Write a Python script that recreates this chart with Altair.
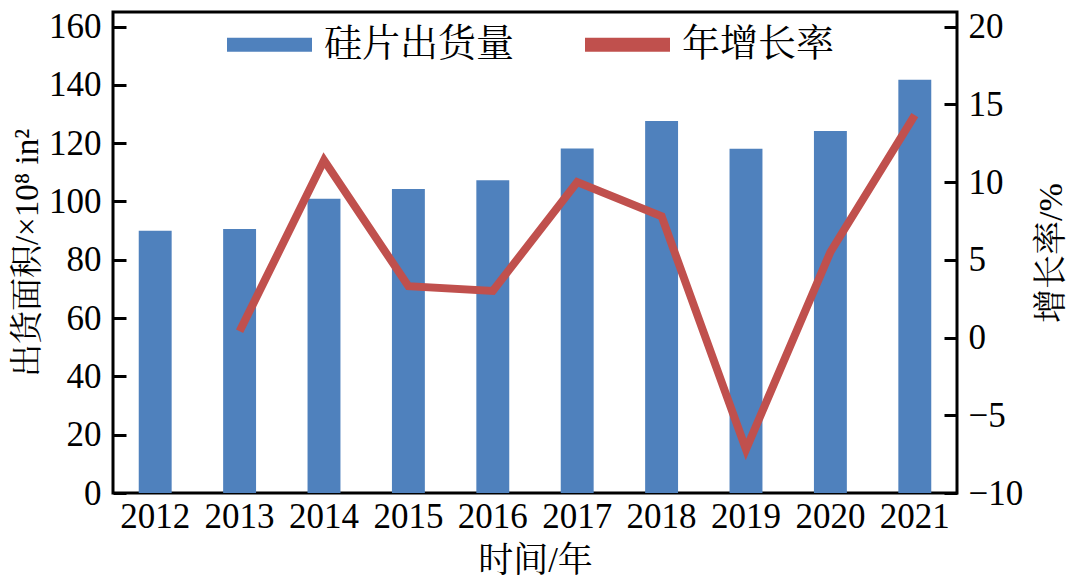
import altair as alt
import pandas as pd

years = ["2012", "2013", "2014", "2015", "2016", "2017", "2018", "2019", "2020", "2021"]
shipments = [90.0, 90.6, 100.9, 104.3, 107.3, 118.2, 127.6, 118.1, 124.2, 141.8]
growth_years = ["2013", "2014", "2015", "2016", "2017", "2018", "2019", "2020", "2021"]
growth = [0.4, 11.4, 3.3, 3.0, 10.0, 7.8, -7.2, 5.5, 14.3]
series_names = ["硅片出货量", "年增长率"]
colors = ["#4F81BD", "#C0504D"]
left_ticks = [0, 20, 40, 60, 80, 100, 120, 140, 160]
right_ticks = [-10, -5, 0, 5, 10, 15, 20]

FONT = "Liberation Serif, Times New Roman, Noto Serif CJK SC, Noto Sans CJK SC"

bar_df = pd.DataFrame({"year": years, "value": shipments, "series": series_names[0]})
line_df = pd.DataFrame({"year": growth_years, "value": growth, "series": series_names[1]})

x_scale = alt.Scale(domain=years, paddingInner=0.61, paddingOuter=0.305)
x_axis = alt.Axis(title="时间/年", labelAngle=0, ticks=False, domain=False, grid=False,
                  labelFontSize=35, titleFontSize=35, labelPadding=6, titlePadding=9,
                  labelFont=FONT, titleFont=FONT, labelColor="black", titleColor="black",
                  titleFontWeight="normal")
x_bar = alt.X("year:N", scale=x_scale, axis=x_axis)
x_line = alt.X("year:N", scale=x_scale, axis=x_axis, bandPosition=0.5)

left_scale = alt.Scale(domain=[0, 165], nice=False, zero=False)
right_scale = alt.Scale(domain=[-10, 20.9375], nice=False, zero=False)

color_enc = alt.Color(
    "series:N",
    scale=alt.Scale(domain=series_names, range=colors),
    legend=alt.Legend(title=None, orient="none", legendX=114, legendY=-10,
                      direction="horizontal",
                      symbolType="M-1,-0.165L1,-0.165L1,0.165L-1,0.165Z",
                      symbolSize=7225, symbolStrokeWidth=0,
                      labelFontSize=38, labelFont=FONT, labelColor="black",
                      labelOffset=12, columnPadding=70, labelLimit=400),
)

bars = alt.Chart(bar_df).mark_bar().encode(
    x=x_bar,
    y=alt.Y("value:Q", scale=left_scale,
            axis=alt.Axis(orient="left", values=left_ticks, ticks=False, domain=False, grid=False,
                          title="出货面积/×10⁸ in²", titleFontSize=33, labelFontSize=35,
                          labelPadding=12, titlePadding=4, labelFont=FONT, titleFont=FONT,
                          labelColor="black", titleColor="black", titleFontWeight="normal")),
    color=color_enc,
)

left_tick_layer = alt.Chart(bar_df).mark_point(opacity=0).encode(
    x=x_line,
    y=alt.Y("value:Q", scale=left_scale,
            axis=alt.Axis(orient="left", values=left_ticks, ticks=True, tickSize=13, tickWidth=3,
                          tickColor="black", labels=False, domain=False, grid=False,
                          title=None, offset=-13)),
)

line = alt.Chart(line_df).mark_line(strokeWidth=8, strokeJoin="miter").encode(
    x=x_line,
    y=alt.Y("value:Q", scale=right_scale,
            axis=alt.Axis(orient="right", values=right_ticks, ticks=False, domain=False, grid=False,
                          title="增长率/%", titleAngle=270, titleFontSize=34, labelFontSize=35,
                          labelPadding=11, titlePadding=46, labelFont=FONT, titleFont=FONT,
                          labelColor="black", titleColor="black", titleFontWeight="normal")),
    color=color_enc,
)

right_tick_layer = alt.Chart(line_df).mark_point(opacity=0).encode(
    x=x_line,
    y=alt.Y("value:Q", scale=right_scale,
            axis=alt.Axis(orient="right", values=right_ticks, ticks=True, tickSize=13, tickWidth=3,
                          tickColor="black", labels=False, domain=False, grid=False,
                          title=None, offset=-13)),
)

chart = alt.layer(bars, left_tick_layer, line, right_tick_layer).resolve_scale(
    y="independent"
).resolve_axis(
    y="independent"
).properties(
    width=844, height=481,
    autosize=alt.AutoSizeParams(type="none"),
    padding={"left": 105, "top": 4, "right": 115, "bottom": 90},
    background="white",
).configure_view(
    stroke="black", strokeWidth=3
)

chart.save("out.html", embed_options={"renderer": "svg", "actions": False})
